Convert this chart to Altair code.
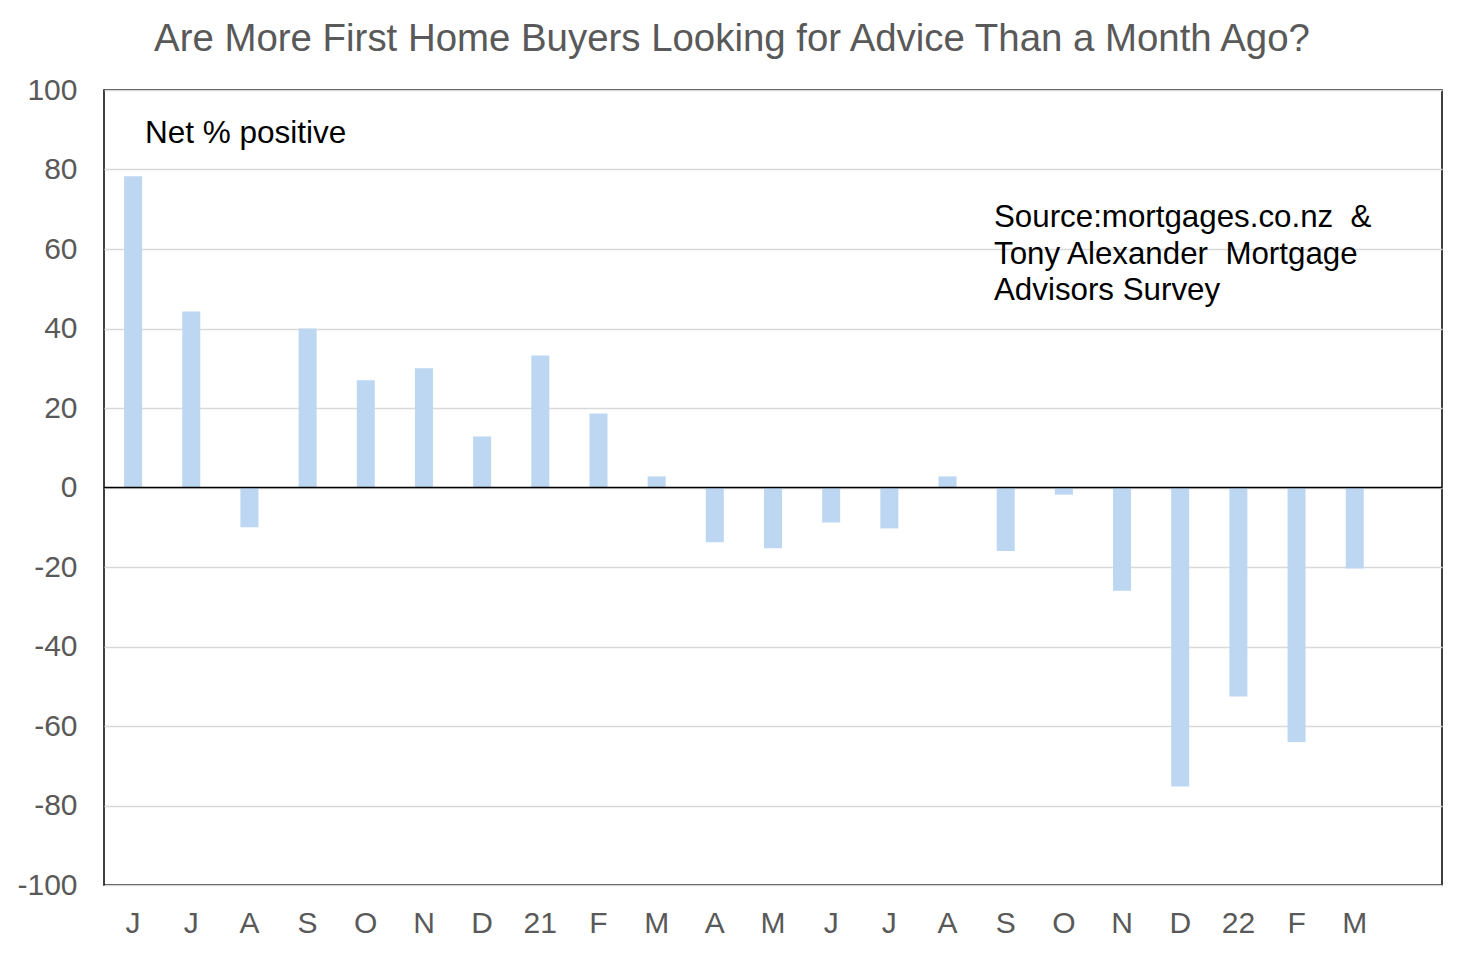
"""
First home buyers advice survey: net % positive, monthly bars.
"""

import pandas as pd
import altair as alt

# ===========================================================
# Data
# ===========================================================

month_labels = ["J", "J", "A", "S", "O", "N", "D", "21", "F", "M", "A",
                "M", "J", "J", "A", "S", "O", "N", "D", "22", "F", "M"]
net_positive = [78.3, 44.3, -10.0, 40.0, 27.0, 30.0, 12.8, 33.2, 18.6, 2.8,
                -13.8, -15.3, -8.8, -10.3, 2.8, -16.0, -1.8, -26.0, -75.2,
                -52.6, -64.0, -20.4]
y_ticks = list(range(-100, 101, 20))

FONT = "Liberation Sans"
BAR_COLOR = "#bdd7f3"
GREY_TEXT = "#595959"

df = pd.DataFrame({
    "idx": list(range(len(month_labels))),
    "label": month_labels,
    "value": net_positive,
})

# one empty slot at the right end, as in the original
x_domain = list(range(len(month_labels) + 1))
label_array = "[" + ",".join(f"'{m}'" for m in month_labels) + ",'']"

# ===========================================================
# Chart
# ===========================================================

bars = (
    alt.Chart(df)
    .mark_bar(color=BAR_COLOR)
    .encode(
        x=alt.X(
            "idx:O",
            scale=alt.Scale(domain=x_domain, paddingInner=0.69, paddingOuter=0.345),
            axis=alt.Axis(
                title=None,
                labelExpr=f"{label_array}[datum.value]",
                labelAngle=0,
                labelFont=FONT,
                labelFontSize=30,
                labelColor=GREY_TEXT,
                labelPadding=23,
                ticks=False,
                domain=False,
                grid=False,
            ),
        ),
        y=alt.Y(
            "value:Q",
            scale=alt.Scale(domain=[-100, 100], nice=False),
            axis=alt.Axis(
                title=None,
                values=y_ticks,
                labelExpr="datum.value + ''",
                labelFont=FONT,
                labelFontSize=30,
                labelColor=GREY_TEXT,
                labelPadding=27,
                ticks=False,
                domain=False,
                gridColor="#d9d9d9",
                gridWidth=1.5,
            ),
        ),
        tooltip=["label", "value"],
    )
)

zero_line = (
    alt.Chart(pd.DataFrame({"y": [0]}))
    .mark_rule(color="black", strokeWidth=1.5)
    .encode(y="y:Q")
)

title_text = (
    alt.Chart(pd.DataFrame({"t": [0]}))
    .mark_text(
        text="Are More First Home Buyers Looking for Advice Than a Month Ago?",
        font=FONT, fontSize=38.4, color=GREY_TEXT, align="center", baseline="alphabetic",
    )
    .encode(x=alt.value(628), y=alt.value(-39))
)

net_text = (
    alt.Chart(pd.DataFrame({"t": [0]}))
    .mark_text(
        text="Net % positive",
        font=FONT, fontSize=31.5, color="black", align="left", baseline="alphabetic",
    )
    .encode(x=alt.value(41), y=alt.value(53))
)

source_text = (
    alt.Chart(pd.DataFrame({"t": [0]}))
    .mark_text(
        text=["Source:mortgages.co.nz \u00a0&",
              "Tony Alexander \u00a0Mortgage",
              "Advisors Survey"],
        font=FONT, fontSize=31.3, lineHeight=36.7, color="black",
        align="left", baseline="alphabetic",
    )
    .encode(x=alt.value(890), y=alt.value(137))
)

chart = (
    alt.layer(bars, zero_line, title_text, net_text, source_text)
    .properties(
        width=1338,
        height=795,
        autosize=alt.AutoSizeParams(type="none"),
        padding={"left": 96, "top": 82, "right": 14, "bottom": 61},
        background="white",
    )
    .configure_view(stroke="black", strokeWidth=1.5)
)

chart.save("out.html", embed_options={"renderer": "svg", "actions": False})
